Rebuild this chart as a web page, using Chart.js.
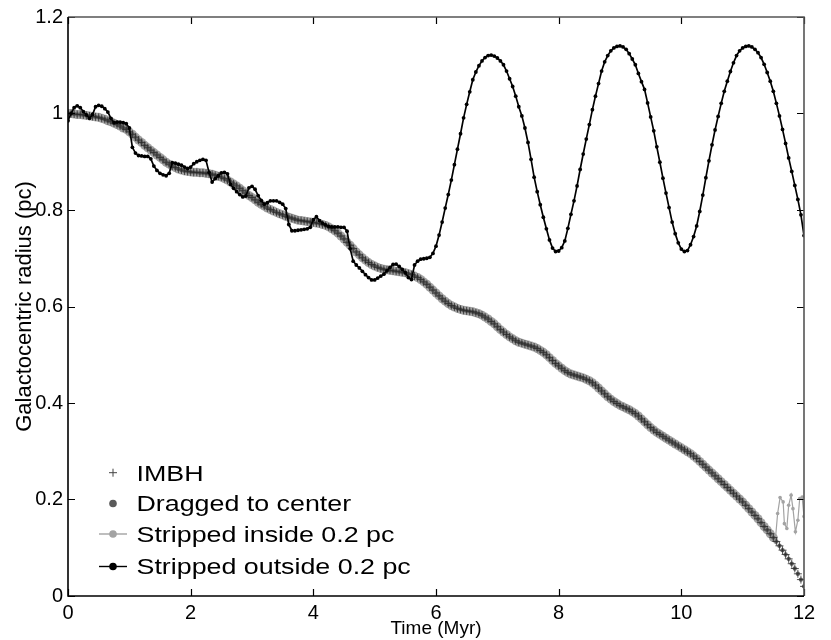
<!DOCTYPE html>
<html>
<head>
<meta charset="utf-8">
<script src="https://cdn.jsdelivr.net/npm/chart.js@4.4.1/dist/chart.umd.min.js"></script>
<style>
  body { margin: 0; background: #fff; }
  #wrap { position: relative; width: 831px; height: 640px; }
  #legend { position: absolute; left: 0; top: 0; pointer-events: none; }
</style>
</head>
<body>
<div id="wrap">
  <canvas id="chart" width="831" height="640"></canvas>
  <svg id="legend" width="831" height="640" xmlns="http://www.w3.org/2000/svg"></svg>
</div>
<script>
// Time grid of the sampled orbit (Myr)
const timeMyr = [
  0,0.05,0.1,0.15,0.2,0.25,0.3,0.35,0.4,0.45,0.5,0.55,0.6,0.65,0.7,0.75,0.8,0.85,0.9,0.95,
  1,1.05,1.1,1.15,1.2,1.25,1.3,1.35,1.4,1.45,1.5,1.55,1.6,1.65,1.7,1.75,1.8,1.85,1.9,1.95,
  2,2.05,2.1,2.15,2.2,2.25,2.3,2.35,2.4,2.45,2.5,2.55,2.6,2.65,2.7,2.75,2.8,2.85,2.9,2.95,
  3,3.05,3.1,3.15,3.2,3.25,3.3,3.35,3.4,3.45,3.5,3.55,3.6,3.65,3.7,3.75,3.8,3.85,3.9,3.95,
  4,4.05,4.1,4.15,4.2,4.25,4.3,4.35,4.4,4.45,4.5,4.55,4.6,4.65,4.7,4.75,4.8,4.85,4.9,4.95,
  5,5.05,5.1,5.15,5.2,5.25,5.3,5.35,5.4,5.45,5.5,5.55,5.6,5.65,5.7,5.75,5.8,5.85,5.9,5.95,
  6,6.05,6.1,6.15,6.2,6.25,6.3,6.35,6.4,6.45,6.5,6.55,6.6,6.65,6.7,6.75,6.8,6.85,6.9,6.95,
  7,7.05,7.1,7.15,7.2,7.25,7.3,7.35,7.4,7.45,7.5,7.55,7.6,7.65,7.7,7.75,7.8,7.85,7.9,7.95,
  8,8.05,8.1,8.15,8.2,8.25,8.3,8.35,8.4,8.45,8.5,8.55,8.6,8.65,8.7,8.75,8.8,8.85,8.9,8.95,
  9,9.05,9.1,9.15,9.2,9.25,9.3,9.35,9.4,9.45,9.5,9.55,9.6,9.65,9.7,9.75,9.8,9.85,9.9,9.95,
  10,10.05,10.1,10.15,10.2,10.25,10.3,10.35,10.4,10.45,10.5,10.55,10.6,10.65,10.7,10.75,10.8,10.85,10.9,10.95,
  11,11.05,11.1,11.15,11.2,11.25,11.3,11.35,11.4,11.45,11.5,11.55,11.6,11.65,11.7,11.75,11.8,11.85,11.9,11.95,
  12
];

// IMBH galactocentric radius (pc), also followed by the dragged stars
const imbhRadius = [
  1.000,1.000,0.999,0.998,0.998,0.997,0.996,0.995,0.994,0.993,0.992,0.990,0.988,0.985,0.983,0.980,0.977,0.974,0.970,0.967,
  0.962,0.957,0.951,0.945,0.940,0.934,0.929,0.924,0.919,0.914,0.909,0.904,0.899,0.895,0.891,0.888,0.885,0.883,0.881,0.880,
  0.879,0.878,0.878,0.877,0.877,0.876,0.875,0.874,0.872,0.870,0.868,0.865,0.862,0.858,0.854,0.850,0.845,0.840,0.835,0.830,
  0.826,0.821,0.816,0.812,0.808,0.804,0.801,0.798,0.795,0.792,0.790,0.787,0.785,0.783,0.781,0.779,0.778,0.777,0.776,0.775,
  0.774,0.773,0.772,0.770,0.768,0.765,0.761,0.757,0.752,0.746,0.740,0.733,0.727,0.720,0.713,0.707,0.701,0.696,0.691,0.687,
  0.684,0.681,0.679,0.677,0.676,0.675,0.674,0.673,0.672,0.671,0.670,0.668,0.666,0.663,0.660,0.656,0.651,0.646,0.640,0.634,
  0.628,0.622,0.616,0.611,0.606,0.602,0.599,0.596,0.594,0.592,0.591,0.590,0.589,0.587,0.585,0.582,0.578,0.574,0.569,0.564,
  0.558,0.552,0.547,0.542,0.537,0.533,0.529,0.526,0.524,0.522,0.520,0.518,0.516,0.513,0.509,0.505,0.500,0.494,0.488,0.482,
  0.477,0.472,0.467,0.463,0.460,0.458,0.456,0.454,0.452,0.449,0.446,0.442,0.437,0.431,0.425,0.419,0.413,0.408,0.403,0.399,
  0.395,0.392,0.389,0.386,0.382,0.378,0.373,0.367,0.361,0.355,0.349,0.344,0.339,0.335,0.331,0.327,0.323,0.319,0.315,0.311,
  0.307,0.303,0.299,0.295,0.290,0.285,0.279,0.273,0.267,0.261,0.255,0.249,0.243,0.237,0.231,0.225,0.219,0.213,0.207,0.201,
  0.195,0.188,0.181,0.174,0.167,0.160,0.152,0.144,0.137,0.129,0.121,0.113,0.104,0.095,0.086,0.077,0.067,0.057,0.046,0.034,
  0.020
];

// Stars stripped outside 0.2 pc
const outsideRadius = [
  0.985,1.000,1.012,1.016,1.012,1.004,0.997,0.990,0.998,1.014,1.017,1.015,1.010,1.003,0.990,0.981,0.982,0.982,0.981,0.979,
  0.970,0.930,0.918,0.913,0.912,0.911,0.911,0.906,0.891,0.882,0.876,0.873,0.871,0.876,0.898,0.897,0.895,0.893,0.889,0.886,
  0.889,0.896,0.900,0.903,0.905,0.903,0.878,0.858,0.865,0.871,0.877,0.878,0.875,0.853,0.845,0.838,0.832,0.827,0.829,0.846,
  0.849,0.843,0.830,0.820,0.812,0.815,0.819,0.819,0.819,0.816,0.812,0.803,0.770,0.757,0.757,0.758,0.759,0.760,0.761,0.764,
  0.780,0.786,0.778,0.773,0.769,0.766,0.765,0.765,0.765,0.764,0.764,0.756,0.720,0.694,0.686,0.680,0.673,0.666,0.660,0.655,
  0.655,0.659,0.663,0.667,0.674,0.681,0.687,0.688,0.683,0.677,0.670,0.660,0.656,0.686,0.694,0.698,0.699,0.700,0.702,0.710,
  0.725,0.748,0.775,0.804,0.832,0.862,0.894,0.926,0.958,0.991,1.019,1.045,1.070,1.086,1.099,1.109,1.116,1.120,1.121,1.119,
  1.115,1.109,1.101,1.088,1.072,1.056,1.036,1.014,0.995,0.970,0.940,0.905,0.868,0.838,0.811,0.785,0.761,0.738,0.721,0.714,
  0.715,0.722,0.736,0.762,0.791,0.819,0.850,0.884,0.916,0.947,0.977,1.008,1.036,1.062,1.088,1.107,1.120,1.130,1.136,1.139,
  1.140,1.138,1.133,1.124,1.113,1.101,1.083,1.066,1.050,1.022,0.993,0.964,0.931,0.899,0.866,0.835,0.805,0.775,0.751,0.732,
  0.719,0.714,0.716,0.728,0.745,0.767,0.797,0.831,0.867,0.902,0.935,0.966,0.994,1.021,1.046,1.067,1.087,1.105,1.120,1.130,
  1.136,1.139,1.140,1.138,1.133,1.126,1.116,1.102,1.085,1.067,1.046,1.021,0.995,0.967,0.938,0.908,0.880,0.851,0.822,0.790,
  0.747
];

// Stars stripped inside 0.2 pc: they leave the IMBH track after ~11.5 Myr
const insideSplitTime = 11.5;
const insideTailTime = [11.53,11.57,11.61,11.66,11.68,11.72,11.75,11.79,11.82,11.86,11.90,11.93,11.97,12.0];
const insideTailRadius = [0.112,0.171,0.204,0.195,0.150,0.140,0.188,0.209,0.181,0.133,0.157,0.202,0.205,0.165];

const xTicks = [0, 2, 4, 6, 8, 10, 12];
const yTicks = [0, 0.2, 0.4, 0.6, 0.8, 1, 1.2];
const legendLabels = ['IMBH', 'Dragged to center', 'Stripped inside 0.2 pc', 'Stripped outside 0.2 pc'];

// Helper: zip time + radius into {x, y}
const pts = (ts, rs) => ts.map((t, i) => ({ x: t, y: rs[i] }));

const imbhPts = pts(timeMyr, imbhRadius);
const insidePts = imbhPts.filter(p => p.x <= insideSplitTime).concat(pts(insideTailTime, insideTailRadius));

const FONT = 'Liberation Sans, Arial, Helvetica, sans-serif';
const fmtTick = v => String(+v.toFixed(1));

// Inward ticks on all four sides + box, MATLAB style
const framePlugin = {
    id: 'frame',
    afterDatasetsDraw(chart) {
        const { ctx, chartArea: a, scales: { x, y } } = chart;
        const len = 7;
        ctx.save();
        ctx.lineWidth = 1.2;
        ctx.strokeStyle = '#000';
        ctx.beginPath();
        xTicks.forEach(v => {
            const px = Math.round(x.getPixelForValue(v)) + 0.5;
            ctx.moveTo(px, a.bottom); ctx.lineTo(px, a.bottom - len);
            ctx.moveTo(px, a.top); ctx.lineTo(px, a.top + len);
        });
        yTicks.forEach(v => {
            const py = Math.round(y.getPixelForValue(v)) + 0.5;
            ctx.moveTo(a.left, py); ctx.lineTo(a.left + len, py);
            ctx.moveTo(a.right, py); ctx.lineTo(a.right - len, py);
        });
        ctx.stroke();

        // top + right edges are a bit lighter in the original
        ctx.lineWidth = 1.6;
        ctx.strokeStyle = '#555';
        ctx.beginPath();
        ctx.moveTo(a.left, a.top); ctx.lineTo(a.right, a.top); ctx.lineTo(a.right, a.bottom);
        ctx.stroke();
        ctx.strokeStyle = '#000';
        ctx.beginPath();
        ctx.moveTo(a.left, a.top); ctx.lineTo(a.left, a.bottom); ctx.lineTo(a.right, a.bottom);
        ctx.stroke();
        ctx.restore();
    }
};

new Chart(document.getElementById('chart'), {
    type: 'scatter',
    data: {
        datasets: [
            {
                label: legendLabels[3],
                data: pts(timeMyr, outsideRadius),
                showLine: true,
                borderColor: '#000',
                borderWidth: 1.7,
                backgroundColor: '#000',
                pointRadius: 1.9,
                pointBorderWidth: 0
            },
            {
                label: legendLabels[0],
                data: imbhPts,
                pointStyle: 'cross',
                pointRadius: 4,
                borderColor: '#2a2a2a',
                pointBorderWidth: 0.8
            },
            {
                label: legendLabels[1],
                data: imbhPts,
                pointRadius: 2.2,
                backgroundColor: '#666',
                pointBorderWidth: 0
            },
            {
                label: legendLabels[2],
                data: insidePts,
                showLine: true,
                borderColor: '#a3a3a3',
                borderWidth: 1.2,
                backgroundColor: '#a3a3a3',
                // thick band while on the IMBH track, small dots once stripped
                pointRadius: c => (c.raw && c.raw.x > insideSplitTime ? 1.8 : 4.5),
                pointBorderWidth: 0
            }
        ]
    },
    options: {
        animation: false,
        responsive: false,
        layout: { padding: { top: 16, right: 27, bottom: 0, left: 0 } },
        plugins: {
            legend: { display: false },
            tooltip: { enabled: false }
        },
        scales: {
            x: {
                type: 'linear',
                min: 0, max: 12,
                afterBuildTicks: s => { s.ticks = xTicks.map(v => ({ value: v })); },
                afterFit: s => { s.height = 44; },
                grid: { display: false, drawTicks: false },
                border: { display: false },
                ticks: { color: '#000', font: { family: FONT, size: 20 }, padding: 5, maxRotation: 0, callback: fmtTick },
                title: { display: true, text: 'Time (Myr)', color: '#000', font: { family: FONT, size: 19 }, padding: { top: 0, bottom: 0 } }
            },
            y: {
                type: 'linear',
                min: 0, max: 1.2,
                afterBuildTicks: s => { s.ticks = yTicks.map(v => ({ value: v })); },
                afterFit: s => { s.width = 68; },
                grid: { display: false, drawTicks: false },
                border: { display: false },
                ticks: { color: '#000', font: { family: FONT, size: 20 }, padding: 5, callback: fmtTick },
                title: { display: true, text: 'Galactocentric radius (pc)', color: '#000', font: { family: FONT, size: 22 }, padding: { top: 12, bottom: 0 } }
            }
        }
    },
    plugins: [framePlugin]
});

// Legend drawn inside the axes, lower left
const svg = document.getElementById('legend');
const NS = 'http://www.w3.org/2000/svg';
const rowsY = [472.7, 503.5, 534, 566.5];
function el(name, attrs, parent) {
    const e = document.createElementNS(NS, name);
    Object.entries(attrs).forEach(([k, v]) => e.setAttribute(k, v));
    (parent || svg).appendChild(e);
    return e;
}
const iconX = 113;
rowsY.forEach((cy, i) => {
    if (i === 0) {
        el('path', { d: `M${iconX - 4} ${cy}H${iconX + 4}M${iconX} ${cy - 4}V${cy + 4}`, stroke: '#444', 'stroke-width': 1 });
    } else if (i === 1) {
        el('circle', { cx: iconX, cy: cy, r: 3.8, fill: '#5a5a5a' });
    } else {
        const c = i === 2 ? '#a3a3a3' : '#000';
        el('line', { x1: 99, y1: cy, x2: 127, y2: cy, stroke: c, 'stroke-width': 1.4 });
        el('circle', { cx: iconX, cy: cy, r: 3.8, fill: c });
    }
    // the original legend type is set wide: stretch horizontally
    const t = el('text', {
        x: 0, y: 0, 'font-family': FONT, 'font-size': 22, fill: '#000',
        transform: `translate(136.5 ${cy + 7.9}) scale(1.22 1)`
    });
    t.textContent = legendLabels[i];
});
</script>
</body>
</html>
